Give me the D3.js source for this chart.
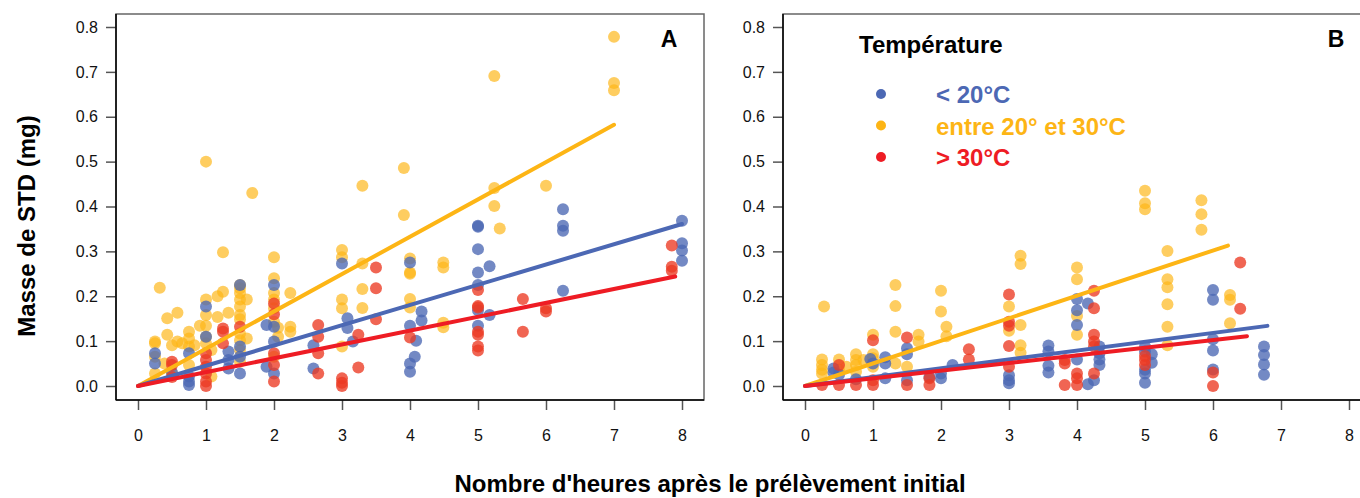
<!DOCTYPE html>
<html>
<head>
<meta charset="utf-8">
<script src="https://cdn.jsdelivr.net/npm/d3@7"></script>
<style>
  body { margin: 0; background: #fff; }
  svg { font-family: "Liberation Sans", Arial, sans-serif; }
</style>
</head>
<body>
<svg width="1360" height="498"></svg>
<script>
// Data: [hours, mass in mg]
var aBlue = [[0.25,0.073],[0.25,0.05],[0.5,0.03],[0.75,0.073],[0.75,0.021],[0.75,0.01],[0.75,0.002],
    [1,0.177],[1,0.11],[1.33,0.077],[1.33,0.058],[1.33,0.039],[1.5,0.225],[1.5,0.088],[1.5,0.065],[1.5,0.028],
    [1.89,0.136],[1.89,0.043],[2,0.225],[2,0.132],[2,0.099],[2,0.028],[2.58,0.091],[2.58,0.039],
    [3,0.273],[3.08,0.151],[3.08,0.129],[3.16,0.099],[4,0.275],[4,0.134],[4,0.05],[4,0.032],[4.07,0.065],
    [4.09,0.101],[4.17,0.166],[4.17,0.146],[5,0.357],[5,0.355],[5,0.305],[5,0.253],[5,0.225],[5,0.169],[5,0.134],
    [5.17,0.267],[5.17,0.158],[6.25,0.394],[6.25,0.357],[6.25,0.346],[6.25,0.212],
    [8,0.368],[8,0.318],[8,0.302],[8,0.279]];
var aOrange = [[0.25,0.099],[0.25,0.095],[0.25,0.065],[0.25,0.028],[0.32,0.219],[0.39,0.05],[0.43,0.151],[0.43,0.114],
    [0.5,0.091],[0.5,0.028],[0.58,0.163],[0.58,0.099],[0.65,0.095],[0.75,0.121],[0.75,0.106],[0.75,0.088],[0.75,0.047],
    [0.83,0.091],[0.91,0.134],[1,0.5],[1,0.193],[1,0.158],[1,0.134],[1,0.11],[1,0.095],[1.08,0.08],[1.08,0.021],
    [1.17,0.2],[1.17,0.154],[1.25,0.298],[1.25,0.21],[1.33,0.163],
    [1.5,0.225],[1.5,0.218],[1.5,0.207],[1.5,0.193],[1.5,0.177],[1.5,0.158],[1.5,0.149],[1.5,0.117],[1.5,0.102],[1.5,0.08],[1.5,0.054],
    [1.6,0.193],[1.6,0.106],[1.68,0.43],[2,0.287],[2,0.24],[2,0.207],[2,0.193],[2,0.173],[2,0.143],[2,0.065],
    [2.06,0.13],[2.06,0.11],[2.24,0.207],[2.24,0.132],[2.24,0.121],[3,0.303],[3,0.287],[3,0.193],[3,0.173],[3,0.088],
    [3.3,0.446],[3.3,0.273],[3.3,0.216],[3.3,0.174],[3.91,0.486],[3.91,0.381],
    [4,0.284],[4,0.253],[4,0.25],[4,0.194],[4,0.175],[4.49,0.275],[4.49,0.264],[4.49,0.141],[4.49,0.131],
    [5.24,0.691],[5.24,0.441],[5.24,0.401],[5.32,0.351],[6,0.446],[7,0.778],[7,0.675],[7,0.659]];
var aRed = [[0.5,0.054],[0.5,0.047],[0.5,0.02],[1,0.073],[1,0.058],[1,0.043],[1,0.028],[1,0.01],[1,0],
    [1.25,0.128],[1.25,0.121],[1.25,0.095],[1.5,0.132],[2,0.184],[2,0.16],[2,0.073],[2,0.047],[2,0.01],
    [2.65,0.136],[2.65,0.11],[2.65,0.073],[2.65,0.028],[3,0.017],[3,0.007],[3,0],[3.24,0.114],[3.24,0.041],
    [3.5,0.264],[3.5,0.218],[3.5,0.149],[4,0.108],[5,0.214],[5,0.178],[5,0.175],[5,0.121],[5,0.114],[5,0.088],[5,0.079],
    [5.66,0.194],[5.66,0.121],[6,0.173],[6,0.166],[7.85,0.313],[7.85,0.266],[7.85,0.257]];

var bBlue = [[0.42,0.039],[0.42,0.03],[0.5,0.025],[0.75,0.015],[0.96,0.06],[1,0.05],[1.18,0.064],[1.18,0.05],[1.18,0.017],
    [1.5,0.084],[1.5,0.071],[1.5,0.013],[1.83,0.02],[2,0.028],[2,0.017],[2.17,0.047],[3,0.024],[3,0.013],[3,0.006],
    [3.58,0.09],[3.58,0.077],[3.58,0.045],[3.58,0.03],[4,0.194],[4,0.169],[4,0.136],[4,0.059],[4.16,0.184],[4.16,0.004],
    [4.25,0.013],[4.33,0.088],[4.33,0.073],[4.33,0.059],[4.33,0.047],[5,0.088],[5,0.077],[5,0.036],[5,0.028],[5,0.007],
    [5.1,0.071],[5.1,0.052],[6,0.214],[6,0.192],[6,0.104],[6,0.079],[6,0.037],
    [6.75,0.088],[6.75,0.069],[6.75,0.048],[6.75,0.025]];
var bOrange = [[0.28,0.177],[0.25,0.059],[0.25,0.047],[0.25,0.036],[0.25,0.028],[0.5,0.059],[0.5,0.036],[0.61,0.043],
    [0.75,0.071],[0.75,0.058],[0.75,0.047],[0.75,0.032],[0.86,0.058],[1,0.114],[1,0.071],[1,0.062],[1,0.043],
    [1.33,0.225],[1.33,0.178],[1.33,0.121],[1.33,0.05],[1.5,0.043],[1.67,0.114],[1.67,0.099],[2,0.212],[2,0.166],
    [2.08,0.132],[2.08,0.111],[3,0.177],[3,0.123],[3.17,0.29],[3.17,0.272],[3.17,0.136],[3.17,0.091],[3.17,0.074],
    [4,0.264],[4,0.238],[4,0.156],[4,0.114],[5,0.435],[5,0.407],[5,0.394],
    [5.33,0.301],[5.33,0.238],[5.33,0.22],[5.33,0.182],[5.33,0.132],[5.33,0.091],
    [5.83,0.414],[5.83,0.383],[5.83,0.348],[6.25,0.203],[6.25,0.192],[6.25,0.14]];
var bRed = [[0.25,0.002],[0.5,0.047],[0.5,0.002],[0.75,0.002],[1,0.102],[1,0.013],[1,0.002],[1.5,0.108],[1.5,0.002],
    [1.83,0.017],[1.83,0.002],[2.41,0.082],[2.41,0.059],[3,0.204],[3,0.143],[3,0.134],[3,0.089],[3,0.043],
    [3.82,0.058],[3.82,0.05],[3.82,0.002],[4,0.028],[4,0.017],[4,0.002],
    [4.25,0.212],[4.25,0.173],[4.25,0.114],[4.25,0.099],[4.25,0.088],[4.25,0.028],
    [5,0.067],[5,0.058],[5,0.047],[6,0.03],[6,0],[6.4,0.275],[6.4,0.172]];

// fitted lines from origin, end points
var aLines = {blue: [8, 0.361], orange: [7, 0.582], red: [7.9, 0.244]};
var bLines = {blue: [6.8, 0.134], orange: [6.22, 0.313], red: [6.5, 0.111]};

var xTicks = [0, 1, 2, 3, 4, 5, 6, 7, 8];
var yTicks = [0, 0.1, 0.2, 0.3, 0.4, 0.5, 0.6, 0.7, 0.8];
var legendLabels = ['< 20°C', 'entre 20° et 30°C', '> 30°C'];

var lineCol = {blue: '#4C68B4', orange: '#FDB515', red: '#EE1C24'};
var dotCol = {blue: '#4C68B4', orange: '#FDB515', red: '#EC3A22'};
var dotOp = {blue: 0.78, orange: 0.68, red: 0.78};

var svg = d3.select('svg');

function drawPanel(left, x0, letter, pts, lines) {
    var xScale = d3.scaleLinear().domain([0, 8]).range([x0, x0 + 544]);
    var yScale = d3.scaleLinear().domain([0, 0.8]).range([386, 27]);
    var g = svg.append('g');

    // data points
    ['orange', 'blue', 'red'].forEach(function(k) {
        g.selectAll('.dot-' + k)
            .data(pts[k])
            .enter()
            .append('circle')
            .attr('cx', function(d) { return xScale(d[0]); })
            .attr('cy', function(d) { return yScale(d[1]); })
            .attr('r', 6)
            .attr('fill', dotCol[k])
            .attr('fill-opacity', dotOp[k]);
    });

    // regression lines
    ['orange', 'blue', 'red'].forEach(function(k) {
        g.append('line')
            .attr('x1', xScale(0)).attr('y1', yScale(0))
            .attr('x2', xScale(lines[k][0])).attr('y2', yScale(lines[k][1]))
            .attr('stroke', lineCol[k])
            .attr('stroke-width', 4)
            .attr('stroke-linecap', 'round');
    });

    // frame
    g.append('rect')
        .attr('x', left).attr('y', 14)
        .attr('width', 588).attr('height', 386)
        .attr('fill', 'none')
        .attr('stroke', '#666')
        .attr('stroke-width', 1.5);

    var xAxis = d3.axisBottom(xScale).tickValues(xTicks).tickSize(10).tickPadding(20)
        .tickFormat(d3.format('d'));
    var xAxisG = g.append('g').attr('transform', 'translate(0,400)').call(xAxis);
    xAxisG.select('.domain').remove();
    xAxisG.append('line').attr('x1', left).attr('x2', left + 588)
        .attr('stroke', '#000').attr('stroke-width', 1.5);

    var yAxis = d3.axisLeft(yScale).tickValues(yTicks).tickSize(10).tickPadding(8)
        .tickFormat(d3.format('.1f'));
    var yAxisG = g.append('g').attr('transform', 'translate(' + left + ',0)').call(yAxis);
    yAxisG.select('.domain').remove();
    yAxisG.append('line').attr('y1', 14).attr('y2', 400)
        .attr('stroke', '#000').attr('stroke-width', 1.5);

    g.selectAll('.tick line').attr('stroke', '#555').attr('stroke-width', 1.5);
    g.selectAll('.tick text').attr('font-size', 16).attr('fill', '#111')
        .attr('font-family', '"Liberation Sans", Arial, sans-serif');

    g.append('text')
        .attr('x', left + 553).attr('y', 47)
        .attr('text-anchor', 'middle')
        .attr('font-size', 23).attr('font-weight', 'bold')
        .text(letter);
    return {x: xScale, y: yScale};
}

drawPanel(116, 138, 'A', {blue: aBlue, orange: aOrange, red: aRed}, aLines);
drawPanel(783, 805, 'B', {blue: bBlue, orange: bOrange, red: bRed}, bLines);

// legend
var legG = svg.append('g');
legG.append('text').attr('x', 859).attr('y', 53)
    .attr('font-size', 24).attr('font-weight', 'bold').text('Température');
var legKeys = ['blue', 'orange', 'red'];
legendLabels.forEach(function(lab, i) {
    var y = 94 + i * 31.5;
    legG.append('circle').attr('cx', 881).attr('cy', y).attr('r', 5).attr('fill', lineCol[legKeys[i]]);
    legG.append('text').attr('x', 936).attr('y', y + 9)
        .attr('font-size', 24).attr('font-weight', 'bold')
        .attr('fill', lineCol[legKeys[i]]).text(lab);
});

// axis titles
svg.append('text')
    .attr('transform', 'translate(35,226) rotate(-90)')
    .attr('text-anchor', 'middle')
    .attr('font-size', 24).attr('font-weight', 'bold')
    .text('Masse de STD (mg)');
svg.append('text')
    .attr('x', 710).attr('y', 492)
    .attr('text-anchor', 'middle')
    .attr('font-size', 24).attr('font-weight', 'bold')
    .text("Nombre d'heures après le prélèvement initial");
</script>
</body>
</html>
